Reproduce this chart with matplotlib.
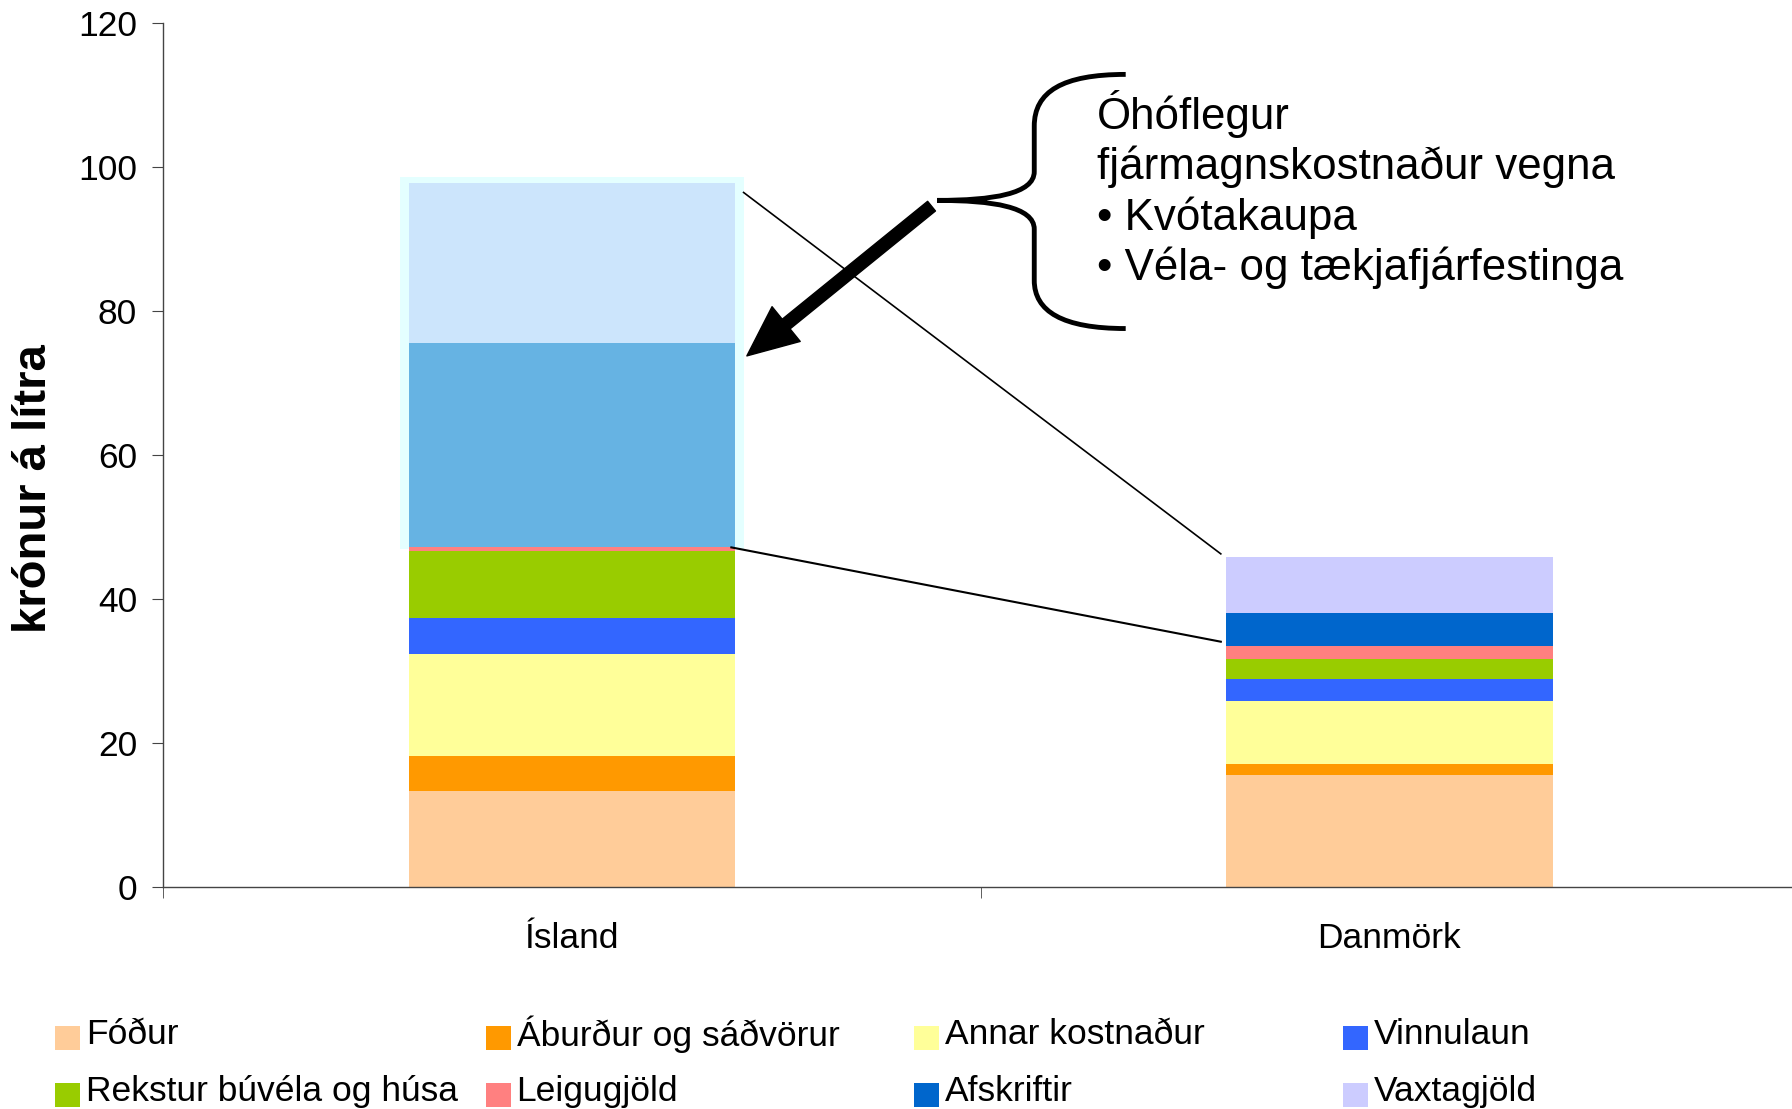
import matplotlib
matplotlib.use("Agg")
import matplotlib.pyplot as plt
import numpy as np
from matplotlib.path import Path
from matplotlib.patches import PathPatch, Rectangle, FancyArrowPatch

plt.rcParams['font.family'] = ['Liberation Sans', 'DejaVu Sans']

categories = ["Ísland", "Danmörk"]
series_names = ["Fóður", "Áburður og sáðvörur", "Annar kostnaður", "Vinnulaun",
                "Rekstur búvéla og húsa", "Leigugjöld", "Afskriftir", "Vaxtagjöld"]
fodur = [13.3, 15.6]
aburdur = [4.9, 1.5]
annar = [14.2, 8.7]
vinnulaun = [5.0, 3.1]
rekstur = [9.3, 2.8]
leigugjold = [0.6, 1.8]
afskriftir = [28.3, 4.6]
vaxtagjold = [22.2, 7.7]

legend_colors = ["#FFCC99", "#FF9900", "#FFFF99", "#3366FF",
                 "#99CC00", "#FF8080", "#0066CC", "#CCCCFF"]
# Ísland's capital-cost segments are highlighted in other shades
island_colors = ["#FFCC99", "#FF9900", "#FFFF99", "#3366FF",
                 "#99CC00", "#FF8080", "#66B3E3", "#CCE5FC"]

series = [fodur, aburdur, annar, vinnulaun, rekstur, leigugjold, afskriftir, vaxtagjold]

fig = plt.figure(figsize=(17.92, 11.09), dpi=100)
ax = fig.add_axes([143/1568, 0.2, 1430/1568, 0.779])

x = np.arange(len(categories))
width = 0.4

# glow behind highlighted Ísland segments
glow_bottom = sum(s[0] for s in series[:6]) - 0.3
glow_top = sum(s[0] for s in series) + 0.8
ax.bar(x[0], glow_top - glow_bottom, width=width + 0.02, bottom=glow_bottom,
       color="#E4FFFF", zorder=1)

bottom = np.zeros(len(categories))
for i, (name, vals) in enumerate(zip(series_names, series)):
    cols = [island_colors[i], legend_colors[i]]
    ax.bar(x, vals, width=width, bottom=bottom, color=cols, zorder=2)
    bottom += np.array(vals)

ax.set_xlim(-0.5, 1.5)
ax.set_ylim(0, 120)
ax.set_yticks(np.arange(0, 121, 20))
ax.tick_params(axis='y', labelsize=25.5, length=8, direction='out', pad=11, color='#444444')
ax.set_xticks(x)
ax.set_xticklabels(categories, fontsize=25.5)
ax.set_xticks([-0.5, 0.5, 1.5], minor=True)
ax.tick_params(axis='x', which='major', length=0, pad=25)
ax.tick_params(axis='x', which='minor', length=8, direction='out', color='#444444')
for sp in ['top', 'right']:
    ax.spines[sp].set_visible(False)
for sp in ['left', 'bottom']:
    ax.spines[sp].set_color('#444444')
    ax.spines[sp].set_linewidth(1.0)

# connecting lines
isl_total = bottom[0]
dk_total = bottom[1]
isl_mid = sum(s[0] for s in series[:6])
dk_mid = sum(s[1] for s in series[:6])
ax.plot([0.21, 0.794], [isl_total - 1.3, dk_total + 0.5], color='black', lw=1.2, zorder=3, clip_on=False)
ax.plot([0.195, 0.794], [isl_mid - 0.1, dk_mid + 0.6], color='black', lw=1.5, zorder=3, clip_on=False)

# arrow
arrow = FancyArrowPatch((0.44, 94.6), (0.214, 73.8),
                        arrowstyle='simple,tail_width=0.32,head_width=1.15,head_length=1.3',
                        mutation_scale=28, color='black', zorder=4, shrinkA=0, shrinkB=0)
ax.add_patch(arrow)

# brace
xl = 0.5657
verts = [(0.6776, 112.9),
         (0.60, 112.9), (xl, 110.5), (xl, 105.7),
         (xl, 99.4),
         (xl, 96.3), (0.515, 95.4), (0.4469, 95.4),
         (0.515, 95.4), (xl, 94.5), (xl, 91.4),
         (xl, 84.3),
         (xl, 80.0), (0.60, 77.6), (0.6776, 77.6)]
codes = [Path.MOVETO,
         Path.CURVE4, Path.CURVE4, Path.CURVE4,
         Path.LINETO,
         Path.CURVE4, Path.CURVE4, Path.CURVE4,
         Path.CURVE4, Path.CURVE4, Path.CURVE4,
         Path.LINETO,
         Path.CURVE4, Path.CURVE4, Path.CURVE4]
ax.add_patch(PathPatch(Path(verts, codes), facecolor='none', edgecolor='black',
                       lw=3.5, zorder=4, clip_on=False))

ax.text(0.6427, 110.7, "Óhóflegur\nfjármagnskostnaður vegna\n• Kvótakaupa\n• Véla- og tækjafjárfestinga",
        fontsize=31.6, va='top', ha='left', linespacing=1.23, zorder=5)

# y label
fig.text(0.019, 0.559, "krónur á lítra", rotation=90, ha='center', va='center',
         fontsize=34, fontweight='bold')

# legend (row-wise, 4 columns)
col_x = [48/1568, 425/1568, 800/1568, 1175/1568]
row_y = [1 - 918/970, 1 - 968/970]
mw, mh = 22/1568, 21/970
for i, (name, col) in enumerate(zip(series_names, legend_colors)):
    r, c = divmod(i, 4)
    fig.patches.append(Rectangle((col_x[c], row_y[r]), mw, mh, transform=fig.transFigure,
                                 facecolor=col, edgecolor='none'))
    fig.text(col_x[c] + 27/1568, row_y[r] + mh * 0.62, name, fontsize=25.5, ha='left', va='center')

fig.savefig("out.png", dpi=100)
